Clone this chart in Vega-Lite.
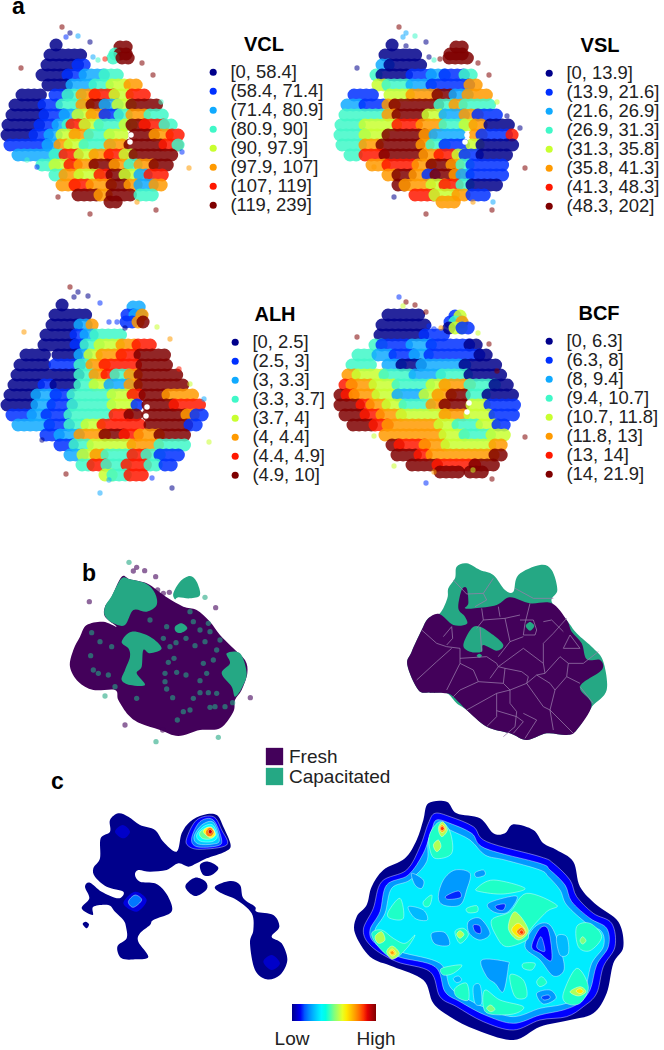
{"$schema":"https://vega.github.io/schema/vega-lite/v6.json","width":664,"height":1050,"padding":0,"autosize":{"type":"none"},"background":"white",
"config":{"view":{"stroke":null},"range":{"ordinal":["#00008b","#0030ff","#10aaff","#40f8c8","#c8ff30","#ff9a00","#ff1800","#7f0000"]},"legend":{"titleFontSize":20,"titleFont":"Liberation Sans","titleFontWeight":"bold","titleColor":"#000","titleAnchor":"middle","labelFontSize":18.4,"labelFont":"Liberation Sans","labelColor":"#222","symbolType":"circle","symbolSize":50,"symbolOpacity":1,"symbolStrokeWidth":0,"rowPadding":-0.8,"padding":0,"titlePadding":8,"labelOffset":8,"labelLimit":200}},
"resolve":{"scale":{"x":"independent","y":"independent","color":"independent","fill":"independent"}},
"encoding":{"x":{"field":"x","type":"quantitative","axis":null,"scale":{"domain":[0,664]}},"y":{"field":"y","type":"quantitative","axis":null,"scale":{"domain":[1050,0]}}},
"layer":[
{"data":{"name":"vcl","values":[{"y":45,"x":56,"x2":62,"c":0},{"y":55,"x":50,"x2":83,"c":0},{"y":65,"x":47,"x2":78,"c":0},{"y":65,"x":78,"x2":88,"c":1},{"y":75,"x":42,"x2":68,"c":0},{"y":75,"x":68,"x2":85,"c":1},{"y":75,"x":85,"x2":105,"c":2},{"y":75,"x":105,"x2":122,"c":3},{"y":85,"x":48,"x2":72,"c":0},{"y":85,"x":72,"x2":95,"c":2},{"y":85,"x":95,"x2":112,"c":3},{"y":85,"x":112,"x2":130,"c":4},{"y":85,"x":130,"x2":138,"c":5},{"y":95,"x":22,"x2":42,"c":0},{"y":95,"x":55,"x2":68,"c":1},{"y":95,"x":68,"x2":82,"c":3},{"y":95,"x":82,"x2":95,"c":5},{"y":95,"x":95,"x2":115,"c":6},{"y":95,"x":115,"x2":132,"c":4},{"y":95,"x":132,"x2":150,"c":6},{"y":105,"x":15,"x2":44,"c":0},{"y":105,"x":44,"x2":62,"c":1},{"y":105,"x":62,"x2":82,"c":3},{"y":105,"x":82,"x2":92,"c":5},{"y":105,"x":92,"x2":105,"c":7},{"y":105,"x":105,"x2":118,"c":2},{"y":105,"x":118,"x2":132,"c":4},{"y":105,"x":132,"x2":160,"c":7},{"y":115,"x":12,"x2":45,"c":0},{"y":115,"x":45,"x2":65,"c":1},{"y":115,"x":65,"x2":78,"c":2},{"y":115,"x":78,"x2":92,"c":4},{"y":115,"x":92,"x2":105,"c":5},{"y":115,"x":105,"x2":120,"c":1},{"y":115,"x":120,"x2":132,"c":3},{"y":115,"x":132,"x2":150,"c":5},{"y":115,"x":150,"x2":168,"c":3},{"y":125,"x":8,"x2":40,"c":0},{"y":125,"x":40,"x2":58,"c":1},{"y":125,"x":58,"x2":68,"c":2},{"y":125,"x":68,"x2":72,"c":3},{"y":125,"x":72,"x2":85,"c":6},{"y":125,"x":85,"x2":100,"c":4},{"y":125,"x":100,"x2":125,"c":3},{"y":125,"x":125,"x2":132,"c":4},{"y":125,"x":132,"x2":145,"c":7},{"y":125,"x":145,"x2":165,"c":6},{"y":125,"x":165,"x2":176,"c":3},{"y":135,"x":7,"x2":35,"c":0},{"y":135,"x":35,"x2":50,"c":1},{"y":135,"x":50,"x2":62,"c":2},{"y":135,"x":62,"x2":75,"c":4},{"y":135,"x":75,"x2":90,"c":5},{"y":135,"x":90,"x2":110,"c":3},{"y":135,"x":110,"x2":125,"c":4},{"y":135,"x":135,"x2":155,"c":7},{"y":135,"x":155,"x2":172,"c":5},{"y":135,"x":172,"x2":180,"c":6},{"y":145,"x":10,"x2":48,"c":1},{"y":145,"x":48,"x2":60,"c":2},{"y":145,"x":60,"x2":70,"c":5},{"y":145,"x":70,"x2":85,"c":4},{"y":145,"x":85,"x2":110,"c":3},{"y":145,"x":110,"x2":125,"c":5},{"y":145,"x":130,"x2":165,"c":7},{"y":145,"x":165,"x2":178,"c":6},{"y":145,"x":178,"x2":182,"c":3},{"y":155,"x":18,"x2":55,"c":2},{"y":155,"x":55,"x2":65,"c":3},{"y":155,"x":65,"x2":80,"c":6},{"y":155,"x":80,"x2":95,"c":4},{"y":155,"x":95,"x2":110,"c":5},{"y":155,"x":110,"x2":125,"c":6},{"y":155,"x":125,"x2":132,"c":4},{"y":155,"x":135,"x2":172,"c":7},{"y":165,"x":42,"x2":55,"c":3},{"y":165,"x":55,"x2":70,"c":4},{"y":165,"x":70,"x2":80,"c":6},{"y":165,"x":80,"x2":95,"c":5},{"y":165,"x":95,"x2":115,"c":7},{"y":165,"x":115,"x2":130,"c":5},{"y":165,"x":130,"x2":140,"c":3},{"y":165,"x":140,"x2":155,"c":5},{"y":165,"x":155,"x2":170,"c":7},{"y":175,"x":55,"x2":65,"c":3},{"y":175,"x":65,"x2":80,"c":5},{"y":175,"x":80,"x2":100,"c":4},{"y":175,"x":100,"x2":112,"c":6},{"y":175,"x":112,"x2":125,"c":7},{"y":175,"x":125,"x2":140,"c":4},{"y":175,"x":140,"x2":150,"c":2},{"y":175,"x":150,"x2":165,"c":6},{"y":185,"x":62,"x2":75,"c":5},{"y":185,"x":75,"x2":92,"c":6},{"y":185,"x":92,"x2":112,"c":5},{"y":185,"x":112,"x2":130,"c":7},{"y":185,"x":130,"x2":140,"c":5},{"y":185,"x":140,"x2":155,"c":2},{"y":185,"x":155,"x2":162,"c":5},{"y":195,"x":78,"x2":100,"c":7},{"y":195,"x":100,"x2":112,"c":5},{"y":195,"x":112,"x2":135,"c":7},{"y":195,"x":140,"x2":155,"c":3},{"y":202,"x":110,"x2":122,"c":7},{"y":47,"x":120,"x2":130,"c":7},{"y":54,"x":115,"x2":118,"c":3},{"y":54,"x":120,"x2":132,"c":7},{"y":58,"x":113,"x2":117,"c":3},{"y":58,"x":122,"x2":133,"c":7}]},
"mark":{"type":"rule","strokeWidth":13,"strokeCap":"round","strokeDash":[0.1,6],"opacity":0.85},"encoding":{"x2":{"field":"x2"},"color":{"field":"c","type":"ordinal","scale":{"domain":[0,1,2,3,4,5,6,7]},"legend":null}}},
{"data":{"values":[{"x":62,"y":27,"c":7},{"x":66,"y":37,"c":1},{"x":70,"y":33,"c":0},{"x":78,"y":36,"c":2},{"x":90,"y":42,"c":0},{"x":21,"y":68,"c":7},{"x":98,"y":60,"c":3},{"x":105,"y":59,"c":6},{"x":93,"y":57,"c":2},{"x":142,"y":63,"c":7},{"x":153,"y":75,"c":7},{"x":161,"y":102,"c":3},{"x":189,"y":168,"c":5},{"x":37,"y":167,"c":1},{"x":58,"y":197,"c":7},{"x":90,"y":214,"c":7},{"x":156,"y":210,"c":7},{"x":27,"y":160,"c":3},{"x":182,"y":152,"c":1},{"x":137,"y":202,"c":5}]},
"mark":{"type":"circle","size":28,"opacity":0.55},"encoding":{"color":{"field":"c","type":"ordinal","scale":{"domain":[0,1,2,3,4,5,6,7]},"legend":{"orient":"none","legendX":204,"legendY":35,"title":"VCL","labelExpr":"['[0, 58.4]','(58.4, 71.4]','(71.4, 80.9]','(80.9, 90]','(90, 97.9]','(97.9, 107]','(107, 119]','(119, 239]'][datum.value]"}}}},
{"data":{"name":"vsl","values":[{"y":45,"x":392,"x2":396,"c":0},{"y":55,"x":385,"x2":418,"c":0},{"y":65,"x":382,"x2":390,"c":2},{"y":65,"x":390,"x2":425,"c":0},{"y":75,"x":376,"x2":382,"c":3},{"y":75,"x":382,"x2":412,"c":0},{"y":75,"x":412,"x2":432,"c":1},{"y":75,"x":432,"x2":445,"c":2},{"y":75,"x":445,"x2":465,"c":1},{"y":75,"x":465,"x2":472,"c":3},{"y":85,"x":378,"x2":388,"c":4},{"y":85,"x":388,"x2":412,"c":3},{"y":85,"x":412,"x2":432,"c":2},{"y":85,"x":432,"x2":470,"c":1},{"y":85,"x":470,"x2":478,"c":5},{"y":95,"x":354,"x2":375,"c":1},{"y":95,"x":390,"x2":412,"c":4},{"y":95,"x":412,"x2":438,"c":5},{"y":95,"x":438,"x2":455,"c":7},{"y":95,"x":455,"x2":468,"c":2},{"y":95,"x":468,"x2":488,"c":5},{"y":105,"x":347,"x2":365,"c":2},{"y":105,"x":365,"x2":385,"c":1},{"y":105,"x":388,"x2":395,"c":5},{"y":105,"x":395,"x2":440,"c":7},{"y":105,"x":440,"x2":455,"c":3},{"y":105,"x":455,"x2":465,"c":5},{"y":105,"x":465,"x2":492,"c":3},{"y":115,"x":345,"x2":388,"c":3},{"y":115,"x":388,"x2":398,"c":5},{"y":115,"x":398,"x2":428,"c":7},{"y":115,"x":428,"x2":445,"c":4},{"y":115,"x":445,"x2":465,"c":2},{"y":115,"x":465,"x2":478,"c":5},{"y":115,"x":478,"x2":500,"c":1},{"y":125,"x":341,"x2":365,"c":3},{"y":125,"x":365,"x2":398,"c":4},{"y":125,"x":398,"x2":422,"c":6},{"y":125,"x":422,"x2":445,"c":5},{"y":125,"x":445,"x2":465,"c":3},{"y":125,"x":465,"x2":472,"c":4},{"y":125,"x":475,"x2":485,"c":5},{"y":125,"x":490,"x2":513,"c":0},{"y":135,"x":340,"x2":365,"c":3},{"y":135,"x":365,"x2":388,"c":4},{"y":135,"x":388,"x2":425,"c":7},{"y":135,"x":425,"x2":435,"c":5},{"y":135,"x":435,"x2":460,"c":2},{"y":135,"x":475,"x2":482,"c":5},{"y":135,"x":482,"x2":512,"c":1},{"y":135,"x":512,"x2":515,"c":6},{"y":145,"x":342,"x2":365,"c":3},{"y":145,"x":365,"x2":382,"c":5},{"y":145,"x":382,"x2":422,"c":7},{"y":145,"x":422,"x2":432,"c":5},{"y":145,"x":432,"x2":445,"c":3},{"y":145,"x":445,"x2":465,"c":1},{"y":145,"x":472,"x2":482,"c":4},{"y":145,"x":482,"x2":515,"c":0},{"y":155,"x":350,"x2":362,"c":3},{"y":155,"x":365,"x2":385,"c":6},{"y":155,"x":385,"x2":425,"c":7},{"y":155,"x":425,"x2":440,"c":5},{"y":155,"x":440,"x2":458,"c":6},{"y":155,"x":458,"x2":465,"c":4},{"y":155,"x":465,"x2":482,"c":1},{"y":155,"x":482,"x2":512,"c":0},{"y":165,"x":372,"x2":388,"c":5},{"y":165,"x":388,"x2":418,"c":6},{"y":165,"x":418,"x2":432,"c":5},{"y":165,"x":432,"x2":452,"c":7},{"y":165,"x":452,"x2":462,"c":5},{"y":165,"x":462,"x2":472,"c":3},{"y":165,"x":472,"x2":508,"c":1},{"y":175,"x":388,"x2":398,"c":5},{"y":175,"x":398,"x2":415,"c":7},{"y":175,"x":415,"x2":428,"c":5},{"y":175,"x":428,"x2":436,"c":1},{"y":175,"x":436,"x2":455,"c":7},{"y":175,"x":455,"x2":462,"c":5},{"y":175,"x":462,"x2":472,"c":2},{"y":175,"x":472,"x2":505,"c":1},{"y":185,"x":398,"x2":405,"c":7},{"y":185,"x":405,"x2":432,"c":5},{"y":185,"x":432,"x2":445,"c":4},{"y":185,"x":445,"x2":462,"c":6},{"y":185,"x":462,"x2":472,"c":3},{"y":185,"x":472,"x2":498,"c":0},{"y":195,"x":415,"x2":435,"c":6},{"y":195,"x":435,"x2":458,"c":4},{"y":195,"x":458,"x2":470,"c":5},{"y":195,"x":472,"x2":490,"c":1},{"y":202,"x":442,"x2":458,"c":5},{"y":47,"x":456,"x2":464,"c":7},{"y":54,"x":450,"x2":468,"c":7},{"y":58,"x":449,"x2":469,"c":7}]},
"mark":{"type":"rule","strokeWidth":13,"strokeCap":"round","strokeDash":[0.1,6],"opacity":0.85},"encoding":{"x2":{"field":"x2"},"color":{"field":"c","type":"ordinal","scale":{"domain":[0,1,2,3,4,5,6,7]},"legend":null}}},
{"data":{"values":[{"x":399,"y":27,"c":7},{"x":403,"y":37,"c":2},{"x":406,"y":33,"c":2},{"x":415,"y":36,"c":3},{"x":406,"y":46,"c":0},{"x":426,"y":42,"c":0},{"x":429,"y":57,"c":0},{"x":434,"y":60,"c":3},{"x":440,"y":59,"c":7},{"x":357,"y":68,"c":0},{"x":478,"y":63,"c":7},{"x":489,"y":75,"c":7},{"x":497,"y":102,"c":4},{"x":525,"y":168,"c":7},{"x":374,"y":167,"c":5},{"x":394,"y":197,"c":0},{"x":426,"y":214,"c":7},{"x":492,"y":210,"c":7},{"x":473,"y":202,"c":5},{"x":493,"y":202,"c":2},{"x":507,"y":116,"c":0},{"x":520,"y":128,"c":0}]},
"mark":{"type":"circle","size":28,"opacity":0.55},"encoding":{"color":{"field":"c","type":"ordinal","scale":{"domain":[0,1,2,3,4,5,6,7]},"legend":{"orient":"none","legendX":540,"legendY":36,"title":"VSL","labelExpr":"['[0, 13.9]','(13.9, 21.6]','(21.6, 26.9]','(26.9, 31.3]','(31.3, 35.8]','(35.8, 41.3]','(41.3, 48.3]','(48.3, 202]'][datum.value]"}}}},
{"data":{"name":"alh","values":[{"y":305,"x":62,"x2":64,"c":0},{"y":315,"x":55,"x2":88,"c":0},{"y":325,"x":52,"x2":80,"c":0},{"y":325,"x":80,"x2":92,"c":2},{"y":325,"x":92,"x2":96,"c":5},{"y":335,"x":46,"x2":76,"c":0},{"y":335,"x":76,"x2":86,"c":1},{"y":335,"x":86,"x2":96,"c":2},{"y":335,"x":96,"x2":125,"c":3},{"y":345,"x":44,"x2":76,"c":0},{"y":345,"x":76,"x2":86,"c":1},{"y":345,"x":86,"x2":100,"c":3},{"y":345,"x":100,"x2":122,"c":4},{"y":345,"x":122,"x2":138,"c":5},{"y":345,"x":138,"x2":152,"c":6},{"y":355,"x":26,"x2":46,"c":0},{"y":355,"x":58,"x2":80,"c":0},{"y":355,"x":80,"x2":90,"c":2},{"y":355,"x":90,"x2":102,"c":4},{"y":355,"x":102,"x2":122,"c":5},{"y":355,"x":122,"x2":140,"c":6},{"y":355,"x":140,"x2":165,"c":7},{"y":365,"x":20,"x2":50,"c":0},{"y":365,"x":55,"x2":80,"c":1},{"y":365,"x":80,"x2":92,"c":3},{"y":365,"x":92,"x2":105,"c":5},{"y":365,"x":105,"x2":140,"c":6},{"y":365,"x":142,"x2":172,"c":7},{"y":375,"x":17,"x2":80,"c":0},{"y":375,"x":80,"x2":95,"c":3},{"y":375,"x":95,"x2":107,"c":5},{"y":375,"x":107,"x2":116,"c":6},{"y":375,"x":116,"x2":130,"c":3},{"y":375,"x":130,"x2":140,"c":5},{"y":375,"x":140,"x2":180,"c":7},{"y":385,"x":14,"x2":44,"c":0},{"y":385,"x":44,"x2":56,"c":1},{"y":385,"x":56,"x2":80,"c":0},{"y":385,"x":80,"x2":95,"c":3},{"y":385,"x":95,"x2":110,"c":4},{"y":385,"x":110,"x2":130,"c":2},{"y":385,"x":130,"x2":140,"c":5},{"y":385,"x":140,"x2":186,"c":7},{"y":395,"x":10,"x2":37,"c":0},{"y":395,"x":37,"x2":56,"c":2},{"y":395,"x":56,"x2":73,"c":1},{"y":395,"x":73,"x2":113,"c":3},{"y":395,"x":113,"x2":133,"c":4},{"y":395,"x":133,"x2":143,"c":6},{"y":395,"x":145,"x2":168,"c":7},{"y":395,"x":168,"x2":198,"c":5},{"y":405,"x":7,"x2":37,"c":0},{"y":405,"x":37,"x2":53,"c":2},{"y":405,"x":53,"x2":73,"c":1},{"y":405,"x":73,"x2":113,"c":3},{"y":405,"x":113,"x2":137,"c":4},{"y":405,"x":137,"x2":143,"c":1},{"y":405,"x":148,"x2":175,"c":7},{"y":405,"x":175,"x2":200,"c":6},{"y":415,"x":12,"x2":33,"c":1},{"y":415,"x":33,"x2":47,"c":2},{"y":415,"x":47,"x2":70,"c":1},{"y":415,"x":70,"x2":110,"c":3},{"y":415,"x":115,"x2":130,"c":6},{"y":415,"x":130,"x2":142,"c":7},{"y":415,"x":148,"x2":187,"c":7},{"y":415,"x":187,"x2":196,"c":5},{"y":415,"x":196,"x2":203,"c":1},{"y":425,"x":18,"x2":50,"c":2},{"y":425,"x":50,"x2":70,"c":1},{"y":425,"x":70,"x2":87,"c":3},{"y":425,"x":87,"x2":103,"c":4},{"y":425,"x":103,"x2":140,"c":6},{"y":425,"x":150,"x2":187,"c":7},{"y":425,"x":190,"x2":198,"c":1},{"y":435,"x":46,"x2":60,"c":1},{"y":435,"x":60,"x2":80,"c":2},{"y":435,"x":80,"x2":105,"c":5},{"y":435,"x":105,"x2":125,"c":7},{"y":435,"x":125,"x2":140,"c":6},{"y":435,"x":140,"x2":160,"c":5},{"y":435,"x":160,"x2":188,"c":7},{"y":445,"x":60,"x2":75,"c":1},{"y":445,"x":75,"x2":93,"c":3},{"y":445,"x":93,"x2":133,"c":4},{"y":445,"x":133,"x2":160,"c":5},{"y":445,"x":160,"x2":186,"c":3},{"y":455,"x":70,"x2":83,"c":2},{"y":455,"x":83,"x2":96,"c":4},{"y":455,"x":96,"x2":107,"c":5},{"y":455,"x":107,"x2":133,"c":3},{"y":455,"x":133,"x2":147,"c":6},{"y":455,"x":147,"x2":160,"c":3},{"y":455,"x":160,"x2":183,"c":1},{"y":465,"x":82,"x2":93,"c":3},{"y":465,"x":93,"x2":107,"c":6},{"y":465,"x":107,"x2":127,"c":3},{"y":465,"x":127,"x2":150,"c":6},{"y":465,"x":150,"x2":160,"c":3},{"y":465,"x":165,"x2":175,"c":1},{"y":475,"x":105,"x2":113,"c":4},{"y":475,"x":113,"x2":130,"c":3},{"y":475,"x":130,"x2":143,"c":6},{"y":307,"x":133,"x2":140,"c":2},{"y":315,"x":127,"x2":135,"c":1},{"y":315,"x":135,"x2":142,"c":2},{"y":315,"x":142,"x2":144,"c":5},{"y":322,"x":126,"x2":138,"c":1},{"y":322,"x":138,"x2":143,"c":5},{"y":322,"x":143,"x2":147,"c":7}]},
"mark":{"type":"rule","strokeWidth":13,"strokeCap":"round","strokeDash":[0.1,6],"opacity":0.85},"encoding":{"x2":{"field":"x2"},"color":{"field":"c","type":"ordinal","scale":{"domain":[0,1,2,3,4,5,6,7]},"legend":null}}},
{"data":{"values":[{"x":70,"y":287,"c":7},{"x":78,"y":292,"c":0},{"x":74,"y":297,"c":0},{"x":88,"y":296,"c":0},{"x":100,"y":303,"c":1},{"x":24,"y":332,"c":5},{"x":109,"y":322,"c":1},{"x":117,"y":322,"c":1},{"x":125,"y":328,"c":0},{"x":157,"y":327,"c":4},{"x":170,"y":339,"c":5},{"x":179,"y":369,"c":6},{"x":190,"y":384,"c":4},{"x":204,"y":399,"c":2},{"x":209,"y":442,"c":4},{"x":42,"y":440,"c":0},{"x":66,"y":474,"c":7},{"x":100,"y":493,"c":2},{"x":172,"y":488,"c":0},{"x":152,"y":478,"c":1},{"x":109,"y":480,"c":2}]},
"mark":{"type":"circle","size":28,"opacity":0.55},"encoding":{"color":{"field":"c","type":"ordinal","scale":{"domain":[0,1,2,3,4,5,6,7]},"legend":{"orient":"none","legendX":226,"legendY":305,"title":"ALH","labelExpr":"['[0, 2.5]','(2.5, 3]','(3, 3.3]','(3.3, 3.7]','(3.7, 4]','(4, 4.4]','(4.4, 4.9]','(4.9, 10]'][datum.value]"}}}},
{"data":{"name":"bcf","values":[{"y":315,"x":388,"x2":420,"c":0},{"y":325,"x":382,"x2":425,"c":0},{"y":335,"x":380,"x2":425,"c":0},{"y":335,"x":425,"x2":445,"c":1},{"y":345,"x":375,"x2":382,"c":3},{"y":345,"x":382,"x2":412,"c":1},{"y":345,"x":412,"x2":432,"c":2},{"y":345,"x":432,"x2":470,"c":1},{"y":345,"x":470,"x2":478,"c":0},{"y":355,"x":358,"x2":372,"c":3},{"y":355,"x":378,"x2":395,"c":2},{"y":355,"x":395,"x2":415,"c":1},{"y":355,"x":415,"x2":430,"c":2},{"y":355,"x":430,"x2":480,"c":1},{"y":355,"x":480,"x2":490,"c":0},{"y":365,"x":352,"x2":375,"c":3},{"y":365,"x":388,"x2":402,"c":2},{"y":365,"x":402,"x2":422,"c":0},{"y":365,"x":422,"x2":465,"c":2},{"y":365,"x":465,"x2":498,"c":0},{"y":375,"x":348,"x2":358,"c":5},{"y":375,"x":358,"x2":385,"c":4},{"y":375,"x":385,"x2":415,"c":3},{"y":375,"x":415,"x2":442,"c":2},{"y":375,"x":442,"x2":470,"c":3},{"y":375,"x":470,"x2":505,"c":0},{"y":385,"x":345,"x2":352,"c":6},{"y":385,"x":352,"x2":375,"c":5},{"y":385,"x":375,"x2":398,"c":4},{"y":385,"x":398,"x2":432,"c":3},{"y":385,"x":432,"x2":445,"c":4},{"y":385,"x":445,"x2":470,"c":5},{"y":385,"x":470,"x2":495,"c":3},{"y":385,"x":495,"x2":510,"c":0},{"y":395,"x":340,"x2":347,"c":7},{"y":395,"x":347,"x2":355,"c":6},{"y":395,"x":355,"x2":378,"c":5},{"y":395,"x":378,"x2":398,"c":4},{"y":395,"x":398,"x2":425,"c":2},{"y":395,"x":425,"x2":438,"c":4},{"y":395,"x":438,"x2":452,"c":5},{"y":395,"x":452,"x2":465,"c":7},{"y":395,"x":472,"x2":488,"c":3},{"y":395,"x":488,"x2":518,"c":0},{"y":405,"x":340,"x2":362,"c":7},{"y":405,"x":362,"x2":372,"c":6},{"y":405,"x":372,"x2":388,"c":5},{"y":405,"x":388,"x2":405,"c":4},{"y":405,"x":405,"x2":432,"c":3},{"y":405,"x":432,"x2":445,"c":5},{"y":405,"x":445,"x2":465,"c":7},{"y":405,"x":472,"x2":490,"c":4},{"y":405,"x":490,"x2":520,"c":1},{"y":415,"x":345,"x2":366,"c":7},{"y":415,"x":366,"x2":382,"c":6},{"y":415,"x":382,"x2":402,"c":5},{"y":415,"x":402,"x2":445,"c":4},{"y":415,"x":445,"x2":465,"c":5},{"y":415,"x":470,"x2":492,"c":4},{"y":415,"x":495,"x2":518,"c":1},{"y":425,"x":353,"x2":375,"c":7},{"y":425,"x":375,"x2":388,"c":6},{"y":425,"x":388,"x2":440,"c":5},{"y":425,"x":440,"x2":458,"c":4},{"y":425,"x":458,"x2":482,"c":3},{"y":425,"x":482,"x2":498,"c":4},{"y":425,"x":498,"x2":510,"c":1},{"y":435,"x":385,"x2":445,"c":5},{"y":435,"x":445,"x2":465,"c":4},{"y":435,"x":465,"x2":492,"c":3},{"y":435,"x":492,"x2":508,"c":4},{"y":445,"x":392,"x2":400,"c":7},{"y":445,"x":400,"x2":425,"c":6},{"y":445,"x":425,"x2":447,"c":5},{"y":445,"x":447,"x2":495,"c":4},{"y":445,"x":495,"x2":505,"c":5},{"y":455,"x":397,"x2":420,"c":7},{"y":455,"x":420,"x2":432,"c":6},{"y":455,"x":432,"x2":495,"c":5},{"y":455,"x":495,"x2":503,"c":7},{"y":465,"x":412,"x2":438,"c":7},{"y":465,"x":438,"x2":475,"c":6},{"y":465,"x":475,"x2":495,"c":7},{"y":472,"x":440,"x2":460,"c":7},{"y":472,"x":470,"x2":488,"c":7},{"y":316,"x":455,"x2":460,"c":1},{"y":316,"x":460,"x2":465,"c":4},{"y":322,"x":450,"x2":455,"c":1},{"y":322,"x":455,"x2":462,"c":3},{"y":322,"x":462,"x2":468,"c":5},{"y":328,"x":449,"x2":455,"c":0},{"y":328,"x":455,"x2":462,"c":4},{"y":328,"x":462,"x2":469,"c":1}]},
"mark":{"type":"rule","strokeWidth":13,"strokeCap":"round","strokeDash":[0.1,6],"opacity":0.85},"encoding":{"x2":{"field":"x2"},"color":{"field":"c","type":"ordinal","scale":{"domain":[0,1,2,3,4,5,6,7]},"legend":null}}},
{"data":{"values":[{"x":399,"y":297,"c":1},{"x":406,"y":302,"c":7},{"x":403,"y":306,"c":4},{"x":415,"y":305,"c":7},{"x":426,"y":312,"c":7},{"x":429,"y":326,"c":1},{"x":434,"y":329,"c":1},{"x":441,"y":328,"c":5},{"x":478,"y":333,"c":4},{"x":357,"y":337,"c":7},{"x":489,"y":344,"c":7},{"x":497,"y":371,"c":7},{"x":525,"y":437,"c":7},{"x":374,"y":436,"c":4},{"x":394,"y":466,"c":4},{"x":426,"y":483,"c":1},{"x":492,"y":479,"c":7},{"x":473,"y":470,"c":4},{"x":434,"y":472,"c":5}]},
"mark":{"type":"circle","size":28,"opacity":0.55},"encoding":{"color":{"field":"c","type":"ordinal","scale":{"domain":[0,1,2,3,4,5,6,7]},"legend":{"orient":"none","legendX":540,"legendY":304,"title":"BCF","labelExpr":"['[0, 6.3]','(6.3, 8]','(8, 9.4]','(9.4, 10.7]','(10.7, 11.8]','(11.8, 13]','(13, 14]','(14, 21.9]'][datum.value]"}}}},
{"data":{"name":"holes","values":[{"x":131,"y":135},{"x":130,"y":142},{"x":467,"y":135},{"x":465,"y":142},{"x":147,"y":407},{"x":146,"y":416},{"x":469,"y":403},{"x":467,"y":412},{"x":195,"y":665},{"x":193,"y":672}]},"mark":{"type":"point","filled":true,"shape":"circle","size":30,"color":"white","opacity":1}},
{"data":{"name":"bleft","values":[{"g":1,"c":0,"x":215,"y":200},{"g":1,"c":0,"x":240,"y":208},{"g":1,"c":0,"x":290,"y":220},{"g":1,"c":0,"x":320,"y":240},{"g":1,"c":0,"x":355,"y":265},{"g":1,"c":0,"x":400,"y":290},{"g":1,"c":0,"x":440,"y":300},{"g":1,"c":0,"x":480,"y":335},{"g":1,"c":0,"x":510,"y":375},{"g":1,"c":0,"x":545,"y":410},{"g":1,"c":0,"x":585,"y":450},{"g":1,"c":0,"x":592,"y":490},{"g":1,"c":0,"x":575,"y":540},{"g":1,"c":0,"x":555,"y":570},{"g":1,"c":0,"x":550,"y":605},{"g":1,"c":0,"x":510,"y":655},{"g":1,"c":0,"x":450,"y":660},{"g":1,"c":0,"x":385,"y":678},{"g":1,"c":0,"x":330,"y":660},{"g":1,"c":0,"x":270,"y":640},{"g":1,"c":0,"x":235,"y":615},{"g":1,"c":0,"x":205,"y":570},{"g":1,"c":0,"x":195,"y":540},{"g":1,"c":0,"x":130,"y":540},{"g":1,"c":0,"x":85,"y":515},{"g":1,"c":0,"x":60,"y":470},{"g":1,"c":0,"x":70,"y":420},{"g":1,"c":0,"x":90,"y":380},{"g":1,"c":0,"x":110,"y":345},{"g":1,"c":0,"x":160,"y":335},{"g":1,"c":0,"x":200,"y":350},{"g":1,"c":0,"x":165,"y":320},{"g":1,"c":0,"x":165,"y":290},{"g":1,"c":0,"x":185,"y":260},{"g":2,"c":1,"x":215,"y":205},{"g":2,"c":1,"x":240,"y":208},{"g":2,"c":1,"x":290,"y":222},{"g":2,"c":1,"x":315,"y":250},{"g":2,"c":1,"x":320,"y":285},{"g":2,"c":1,"x":290,"y":305},{"g":2,"c":1,"x":250,"y":300},{"g":2,"c":1,"x":225,"y":345},{"g":2,"c":1,"x":190,"y":340},{"g":2,"c":1,"x":165,"y":318},{"g":2,"c":1,"x":165,"y":290},{"g":2,"c":1,"x":185,"y":258},{"g":3,"c":1,"x":370,"y":250},{"g":3,"c":1,"x":390,"y":215},{"g":3,"c":1,"x":420,"y":198},{"g":3,"c":1,"x":440,"y":215},{"g":3,"c":1,"x":450,"y":255},{"g":3,"c":1,"x":420,"y":265},{"g":3,"c":1,"x":385,"y":262},{"g":3,"c":1,"x":375,"y":268},{"g":4,"c":1,"x":215,"y":395},{"g":4,"c":1,"x":245,"y":365},{"g":4,"c":1,"x":300,"y":380},{"g":4,"c":1,"x":335,"y":415},{"g":4,"c":1,"x":300,"y":430},{"g":4,"c":1,"x":280,"y":420},{"g":4,"c":1,"x":275,"y":470},{"g":4,"c":1,"x":260,"y":490},{"g":4,"c":1,"x":285,"y":525},{"g":4,"c":1,"x":240,"y":525},{"g":4,"c":1,"x":215,"y":510},{"g":4,"c":1,"x":225,"y":480},{"g":4,"c":1,"x":240,"y":440},{"g":4,"c":1,"x":235,"y":415},{"g":5,"c":1,"x":530,"y":430},{"g":5,"c":1,"x":570,"y":430},{"g":5,"c":1,"x":590,"y":490},{"g":5,"c":1,"x":575,"y":535},{"g":5,"c":1,"x":555,"y":560},{"g":5,"c":1,"x":545,"y":530},{"g":5,"c":1,"x":515,"y":490},{"g":5,"c":1,"x":540,"y":460},{"g":6,"c":1,"x":375,"y":350},{"g":6,"c":1,"x":395,"y":340},{"g":6,"c":1,"x":412,"y":355},{"g":6,"c":1,"x":395,"y":368},{"g":6,"c":1,"x":378,"y":365}]},
"mark":{"type":"line","interpolate":"cardinal-closed","stroke":"transparent"},"encoding":{"x":{"field":"x","type":"quantitative","axis":null,"scale":{"domain":[-150,1842]}},"y":{"field":"y","type":"quantitative","axis":null,"scale":{"domain":[1620,-1530]}},"order":{"value":null},"detail":{"field":"g"},"fill":{"field":"c","type":"ordinal","scale":{"domain":[0,1],"range":["#43015a","#25a884"]},"legend":null}}},
{"data":{"name":"bdots","values":[{"x":125,"y":368,"c":1},{"x":150,"y":395,"c":1},{"x":185,"y":410,"c":1},{"x":122,"y":437,"c":1},{"x":130,"y":480,"c":1},{"x":175,"y":495,"c":1},{"x":145,"y":490,"c":1},{"x":195,"y":530,"c":1},{"x":260,"y":565,"c":1},{"x":345,"y":490,"c":1},{"x":355,"y":457,"c":1},{"x":380,"y":487,"c":1},{"x":408,"y":495,"c":1},{"x":372,"y":445,"c":1},{"x":360,"y":410,"c":1},{"x":378,"y":398,"c":1},{"x":340,"y":385,"c":1},{"x":408,"y":385,"c":1},{"x":435,"y":407,"c":1},{"x":465,"y":395,"c":1},{"x":500,"y":420,"c":1},{"x":460,"y":460,"c":1},{"x":490,"y":450,"c":1},{"x":470,"y":490,"c":1},{"x":450,"y":512,"c":1},{"x":345,"y":515,"c":1},{"x":350,"y":537,"c":1},{"x":368,"y":563,"c":1},{"x":430,"y":565,"c":1},{"x":475,"y":548,"c":1},{"x":500,"y":550,"c":1},{"x":450,"y":548,"c":1},{"x":400,"y":605,"c":1},{"x":420,"y":600,"c":1},{"x":382,"y":630,"c":1},{"x":480,"y":592,"c":1},{"x":495,"y":590,"c":1},{"x":525,"y":590,"c":1},{"x":548,"y":578,"c":1},{"x":430,"y":335,"c":1},{"x":420,"y":305,"c":1},{"x":450,"y":360,"c":1},{"x":480,"y":365,"c":1},{"x":510,"y":390,"c":1},{"x":475,"y":340,"c":1},{"x":350,"y":350,"c":1},{"x":300,"y":330,"c":1},{"x":237,"y":157,"c":1},{"x":165,"y":558,"c":1},{"x":465,"y":262,"c":1},{"x":318,"y":695,"c":1},{"x":505,"y":682,"c":1},{"x":250,"y":183,"c":0},{"x":260,"y":172,"c":0},{"x":284,"y":182,"c":0},{"x":317,"y":200,"c":0},{"x":118,"y":275,"c":0},{"x":323,"y":240,"c":0},{"x":340,"y":250,"c":0},{"x":358,"y":247,"c":0},{"x":497,"y":293,"c":0},{"x":601,"y":563,"c":0},{"x":225,"y":645,"c":0},{"x":338,"y":660,"c":0}]},
"mark":{"type":"circle","size":28,"opacity":0.6},"encoding":{"x":{"field":"x","type":"quantitative","axis":null,"scale":{"domain":[-150,1842]}},"y":{"field":"y","type":"quantitative","axis":null,"scale":{"domain":[1620,-1530]}},"color":{"field":"c","type":"ordinal","scale":{"domain":[0,1],"range":["#43015a","#25a884"]},"legend":{"orient":"none","legendX":265,"legendY":747,"title":null,"symbolType":"square","symbolSize":300,"labelOffset":5,"labelFontSize":19,"rowPadding":0,"labelExpr":"['Fresh','Capacitated'][datum.value]"}}}},
{"data":{"name":"bright","values":[{"g":1,"c":1,"x":320,"y":140},{"g":1,"c":1,"x":350,"y":130},{"g":1,"c":1,"x":390,"y":150},{"g":1,"c":1,"x":430,"y":165},{"g":1,"c":1,"x":465,"y":210},{"g":1,"c":1,"x":490,"y":215},{"g":1,"c":1,"x":505,"y":165},{"g":1,"c":1,"x":570,"y":135},{"g":1,"c":1,"x":605,"y":150},{"g":1,"c":1,"x":622,"y":210},{"g":1,"c":1,"x":605,"y":245},{"g":1,"c":1,"x":650,"y":300},{"g":1,"c":1,"x":680,"y":340},{"g":1,"c":1,"x":730,"y":385},{"g":1,"c":1,"x":760,"y":425},{"g":1,"c":1,"x":770,"y":510},{"g":1,"c":1,"x":730,"y":555},{"g":1,"c":1,"x":720,"y":570},{"g":1,"c":1,"x":680,"y":630},{"g":1,"c":1,"x":650,"y":645},{"g":1,"c":1,"x":590,"y":640},{"g":1,"c":1,"x":530,"y":660},{"g":1,"c":1,"x":480,"y":640},{"g":1,"c":1,"x":410,"y":620},{"g":1,"c":1,"x":350,"y":570},{"g":1,"c":1,"x":320,"y":550},{"g":1,"c":1,"x":290,"y":520},{"g":1,"c":1,"x":240,"y":518},{"g":1,"c":1,"x":205,"y":510},{"g":1,"c":1,"x":172,"y":435},{"g":1,"c":1,"x":185,"y":395},{"g":1,"c":1,"x":215,"y":330},{"g":1,"c":1,"x":235,"y":295},{"g":1,"c":1,"x":270,"y":280},{"g":1,"c":1,"x":292,"y":235},{"g":1,"c":1,"x":295,"y":205},{"g":1,"c":1,"x":315,"y":175},{"g":2,"c":0,"x":172,"y":435},{"g":2,"c":0,"x":185,"y":395},{"g":2,"c":0,"x":215,"y":330},{"g":2,"c":0,"x":235,"y":295},{"g":2,"c":0,"x":268,"y":282},{"g":2,"c":0,"x":310,"y":315},{"g":2,"c":0,"x":350,"y":312},{"g":2,"c":0,"x":345,"y":290},{"g":2,"c":0,"x":325,"y":265},{"g":2,"c":0,"x":335,"y":210},{"g":2,"c":0,"x":350,"y":205},{"g":2,"c":0,"x":355,"y":250},{"g":2,"c":0,"x":345,"y":265},{"g":2,"c":0,"x":375,"y":265},{"g":2,"c":0,"x":440,"y":255},{"g":2,"c":0,"x":480,"y":232},{"g":2,"c":0,"x":540,"y":250},{"g":2,"c":0,"x":605,"y":250},{"g":2,"c":0,"x":650,"y":300},{"g":2,"c":0,"x":665,"y":335},{"g":2,"c":0,"x":695,"y":370},{"g":2,"c":0,"x":710,"y":418},{"g":2,"c":0,"x":750,"y":420},{"g":2,"c":0,"x":755,"y":450},{"g":2,"c":0,"x":690,"y":500},{"g":2,"c":0,"x":725,"y":555},{"g":2,"c":0,"x":680,"y":630},{"g":2,"c":0,"x":650,"y":645},{"g":2,"c":0,"x":590,"y":640},{"g":2,"c":0,"x":530,"y":660},{"g":2,"c":0,"x":480,"y":640},{"g":2,"c":0,"x":410,"y":620},{"g":2,"c":0,"x":350,"y":570},{"g":2,"c":0,"x":330,"y":550},{"g":2,"c":0,"x":310,"y":530},{"g":2,"c":0,"x":290,"y":520},{"g":2,"c":0,"x":240,"y":518},{"g":2,"c":0,"x":205,"y":510},{"g":3,"c":1,"x":340,"y":375},{"g":3,"c":1,"x":365,"y":325},{"g":3,"c":1,"x":390,"y":320},{"g":3,"c":1,"x":430,"y":345},{"g":3,"c":1,"x":460,"y":375},{"g":3,"c":1,"x":440,"y":392},{"g":3,"c":1,"x":400,"y":375},{"g":3,"c":1,"x":395,"y":395},{"g":3,"c":1,"x":360,"y":395},{"g":4,"c":1,"x":527,"y":318},{"g":4,"c":1,"x":540,"y":306},{"g":4,"c":1,"x":553,"y":318},{"g":4,"c":1,"x":540,"y":332},{"g":5,"c":1,"x":380,"y":407},{"g":5,"c":1,"x":388,"y":401},{"g":5,"c":1,"x":396,"y":407},{"g":5,"c":1,"x":388,"y":413}]},
"mark":{"type":"line","interpolate":"cardinal-closed","stroke":"transparent"},"encoding":{"x":{"field":"x","type":"quantitative","axis":null,"scale":{"domain":[-1050,942]}},"y":{"field":"y","type":"quantitative","axis":null,"scale":{"domain":[1590,-1560]}},"order":{"value":null},"detail":{"field":"g"},"fill":{"field":"c","type":"ordinal","scale":{"domain":[0,1],"range":["#43015a","#25a884"]},"legend":null}}},
{"data":{"name":"cells","values":[{"g":1,"x":215,"y":330},{"g":1,"x":260,"y":370},{"g":1,"x":290,"y":380},{"g":1,"x":330,"y":385},{"g":2,"x":200,"y":480},{"g":2,"x":260,"y":425},{"g":2,"x":305,"y":385},{"g":3,"x":310,"y":180},{"g":3,"x":350,"y":222},{"g":3,"x":400,"y":220},{"g":3,"x":430,"y":175},{"g":4,"x":400,"y":220},{"g":4,"x":410,"y":240},{"g":4,"x":375,"y":260},{"g":5,"x":495,"y":205},{"g":5,"x":550,"y":235},{"g":5,"x":610,"y":235},{"g":6,"x":280,"y":350},{"g":6,"x":305,"y":320},{"g":6,"x":308,"y":355},{"g":6,"x":290,"y":375},{"g":7,"x":330,"y":385},{"g":7,"x":330,"y":430},{"g":7,"x":290,"y":510},{"g":8,"x":330,"y":430},{"g":8,"x":370,"y":450},{"g":8,"x":385,"y":485},{"g":8,"x":330,"y":510},{"g":8,"x":310,"y":530},{"g":9,"x":385,"y":485},{"g":9,"x":460,"y":490},{"g":9,"x":480,"y":510},{"g":9,"x":440,"y":520},{"g":9,"x":350,"y":570},{"g":10,"x":440,"y":520},{"g":10,"x":440,"y":590},{"g":10,"x":410,"y":620},{"g":11,"x":480,"y":510},{"g":11,"x":480,"y":550},{"g":11,"x":500,"y":575},{"g":11,"x":495,"y":620},{"g":11,"x":460,"y":650},{"g":12,"x":440,"y":572},{"g":12,"x":500,"y":590},{"g":12,"x":520,"y":605},{"g":12,"x":490,"y":640},{"g":13,"x":520,"y":580},{"g":13,"x":560,"y":600},{"g":13,"x":525,"y":655},{"g":14,"x":480,"y":510},{"g":14,"x":530,"y":490},{"g":14,"x":580,"y":560},{"g":14,"x":600,"y":570},{"g":14,"x":610,"y":630},{"g":16,"x":600,"y":570},{"g":16,"x":670,"y":640},{"g":17,"x":530,"y":490},{"g":17,"x":560,"y":465},{"g":17,"x":600,"y":490},{"g":17,"x":615,"y":510},{"g":17,"x":600,"y":570},{"g":18,"x":465,"y":445},{"g":18,"x":515,"y":455},{"g":18,"x":535,"y":470},{"g":18,"x":530,"y":490},{"g":19,"x":465,"y":445},{"g":19,"x":460,"y":490},{"g":20,"x":420,"y":475},{"g":20,"x":445,"y":440},{"g":20,"x":465,"y":445},{"g":21,"x":445,"y":440},{"g":21,"x":520,"y":385},{"g":21,"x":580,"y":430},{"g":21,"x":585,"y":460},{"g":21,"x":560,"y":465},{"g":22,"x":330,"y":415},{"g":22,"x":410,"y":410},{"g":22,"x":440,"y":430},{"g":22,"x":445,"y":440},{"g":23,"x":395,"y":395},{"g":23,"x":390,"y":320},{"g":24,"x":395,"y":265},{"g":24,"x":400,"y":300},{"g":24,"x":380,"y":325},{"g":25,"x":400,"y":300},{"g":25,"x":465,"y":295},{"g":25,"x":480,"y":365},{"g":25,"x":520,"y":350},{"g":26,"x":445,"y":260},{"g":26,"x":450,"y":290},{"g":27,"x":480,"y":365},{"g":27,"x":445,"y":410},{"g":28,"x":510,"y":300},{"g":28,"x":550,"y":300},{"g":28,"x":560,"y":330},{"g":28,"x":555,"y":345},{"g":28,"x":520,"y":345},{"g":28,"x":525,"y":310},{"g":28,"x":540,"y":250},{"g":29,"x":465,"y":295},{"g":29,"x":510,"y":285},{"g":30,"x":580,"y":430},{"g":30,"x":580,"y":370},{"g":30,"x":610,"y":340},{"g":30,"x":650,"y":295},{"g":31,"x":580,"y":305},{"g":31,"x":605,"y":300},{"g":31,"x":640,"y":335},{"g":32,"x":585,"y":460},{"g":32,"x":630,"y":410},{"g":32,"x":655,"y":430},{"g":32,"x":650,"y":470},{"g":32,"x":690,"y":490},{"g":33,"x":655,"y":430},{"g":33,"x":700,"y":430},{"g":33,"x":745,"y":395},{"g":34,"x":640,"y":385},{"g":34,"x":660,"y":345},{"g":34,"x":690,"y":385},{"g":34,"x":640,"y":385},{"g":35,"x":690,"y":500},{"g":35,"x":730,"y":550},{"g":36,"x":615,"y":510},{"g":36,"x":650,"y":470}]},
"mark":{"type":"line","stroke":"#9a7cab","strokeWidth":1,"strokeOpacity":0.75},"encoding":{"x":{"field":"x","type":"quantitative","axis":null,"scale":{"domain":[-1050,942]}},"y":{"field":"y","type":"quantitative","axis":null,"scale":{"domain":[1590,-1560]}},"order":{"value":null},"detail":{"field":"g"}}},
{"data":{"name":"cleft","values":[{"g":1,"v":0,"x":210,"y":150},{"g":1,"v":0,"x":235,"y":130},{"g":1,"v":0,"x":265,"y":140},{"g":1,"v":0,"x":300,"y":165},{"g":1,"v":0,"x":345,"y":180},{"g":1,"v":0,"x":370,"y":215},{"g":1,"v":0,"x":410,"y":245},{"g":1,"v":0,"x":425,"y":190},{"g":1,"v":0,"x":450,"y":155},{"g":1,"v":0,"x":490,"y":135},{"g":1,"v":0,"x":530,"y":135},{"g":1,"v":0,"x":550,"y":170},{"g":1,"v":0,"x":572,"y":225},{"g":1,"v":0,"x":555,"y":245},{"g":1,"v":0,"x":500,"y":265},{"g":1,"v":0,"x":470,"y":280},{"g":1,"v":0,"x":445,"y":290},{"g":1,"v":0,"x":415,"y":280},{"g":1,"v":0,"x":380,"y":300},{"g":1,"v":0,"x":330,"y":305},{"g":1,"v":0,"x":295,"y":300},{"g":1,"v":0,"x":285,"y":315},{"g":1,"v":0,"x":300,"y":335},{"g":1,"v":0,"x":345,"y":340},{"g":1,"v":0,"x":375,"y":365},{"g":1,"v":0,"x":395,"y":405},{"g":1,"v":0,"x":390,"y":430},{"g":1,"v":0,"x":340,"y":450},{"g":1,"v":0,"x":330,"y":465},{"g":1,"v":0,"x":300,"y":490},{"g":1,"v":0,"x":295,"y":515},{"g":1,"v":0,"x":325,"y":560},{"g":1,"v":0,"x":290,"y":568},{"g":1,"v":0,"x":245,"y":565},{"g":1,"v":0,"x":232,"y":530},{"g":1,"v":0,"x":260,"y":505},{"g":1,"v":0,"x":258,"y":470},{"g":1,"v":0,"x":250,"y":450},{"g":1,"v":0,"x":225,"y":425},{"g":1,"v":0,"x":205,"y":405},{"g":1,"v":0,"x":160,"y":410},{"g":1,"v":0,"x":158,"y":435},{"g":1,"v":0,"x":125,"y":415},{"g":1,"v":0,"x":148,"y":385},{"g":1,"v":0,"x":135,"y":350},{"g":1,"v":0,"x":150,"y":338},{"g":1,"v":0,"x":185,"y":365},{"g":1,"v":0,"x":235,"y":385},{"g":1,"v":0,"x":250,"y":365},{"g":1,"v":0,"x":200,"y":350},{"g":1,"v":0,"x":165,"y":320},{"g":1,"v":0,"x":160,"y":295},{"g":1,"v":0,"x":180,"y":265},{"g":1,"v":0,"x":182,"y":205},{"g":1,"v":0,"x":210,"y":185},{"g":2,"v":0,"x":480,"y":285},{"g":2,"v":0,"x":505,"y":275},{"g":2,"v":0,"x":535,"y":293},{"g":2,"v":0,"x":515,"y":315},{"g":2,"v":0,"x":490,"y":315},{"g":3,"v":0,"x":437,"y":345},{"g":3,"v":0,"x":465,"y":323},{"g":3,"v":0,"x":497,"y":335},{"g":3,"v":0,"x":500,"y":358},{"g":3,"v":0,"x":470,"y":378},{"g":3,"v":0,"x":445,"y":365},{"g":4,"v":0,"x":525,"y":350},{"g":4,"v":0,"x":570,"y":333},{"g":4,"v":0,"x":600,"y":345},{"g":4,"v":0,"x":610,"y":385},{"g":4,"v":0,"x":645,"y":410},{"g":4,"v":0,"x":650,"y":425},{"g":4,"v":0,"x":700,"y":435},{"g":4,"v":0,"x":718,"y":470},{"g":4,"v":0,"x":695,"y":500},{"g":4,"v":0,"x":725,"y":520},{"g":4,"v":0,"x":742,"y":570},{"g":4,"v":0,"x":720,"y":615},{"g":4,"v":0,"x":680,"y":628},{"g":4,"v":0,"x":645,"y":600},{"g":4,"v":0,"x":630,"y":520},{"g":4,"v":0,"x":640,"y":480},{"g":4,"v":0,"x":635,"y":430},{"g":4,"v":0,"x":590,"y":390},{"g":4,"v":0,"x":545,"y":370},{"g":5,"v":0,"x":128,"y":462},{"g":5,"v":0,"x":137,"y":455},{"g":5,"v":0,"x":147,"y":463},{"g":5,"v":0,"x":140,"y":475},{"g":61,"v":6,"x":225,"y":185},{"g":61,"v":6,"x":248,"y":165},{"g":61,"v":6,"x":270,"y":185},{"g":61,"v":6,"x":250,"y":205},{"g":62,"v":6,"x":670,"y":575},{"g":62,"v":6,"x":695,"y":555},{"g":62,"v":6,"x":720,"y":580},{"g":62,"v":6,"x":695,"y":600},{"g":63,"v":8,"x":250,"y":400},{"g":63,"v":8,"x":285,"y":365},{"g":63,"v":8,"x":320,"y":390},{"g":63,"v":8,"x":290,"y":425},{"g":64,"v":18,"x":265,"y":395},{"g":64,"v":18,"x":285,"y":375},{"g":64,"v":18,"x":305,"y":390},{"g":64,"v":18,"x":280,"y":412},{"g":65,"v":11,"x":440,"y":205},{"g":65,"v":11,"x":470,"y":150},{"g":65,"v":11,"x":520,"y":140},{"g":65,"v":11,"x":545,"y":180},{"g":65,"v":11,"x":560,"y":225},{"g":65,"v":11,"x":480,"y":238},{"g":65,"v":11,"x":445,"y":228},{"g":66,"v":18,"x":455,"y":205},{"g":66,"v":18,"x":480,"y":155},{"g":66,"v":18,"x":520,"y":150},{"g":66,"v":18,"x":545,"y":210},{"g":66,"v":18,"x":530,"y":228},{"g":66,"v":18,"x":470,"y":230},{"g":67,"v":28,"x":462,"y":200},{"g":67,"v":28,"x":485,"y":165},{"g":67,"v":28,"x":520,"y":157},{"g":67,"v":28,"x":538,"y":210},{"g":67,"v":28,"x":520,"y":222},{"g":67,"v":28,"x":475,"y":222},{"g":68,"v":36,"x":470,"y":195},{"g":68,"v":36,"x":490,"y":170},{"g":68,"v":36,"x":518,"y":165},{"g":68,"v":36,"x":532,"y":200},{"g":68,"v":36,"x":515,"y":215},{"g":68,"v":36,"x":480,"y":213},{"g":69,"v":48,"x":478,"y":190},{"g":69,"v":48,"x":495,"y":175},{"g":69,"v":48,"x":516,"y":172},{"g":69,"v":48,"x":527,"y":195},{"g":69,"v":48,"x":510,"y":207},{"g":69,"v":48,"x":487,"y":205},{"g":70,"v":62,"x":490,"y":185},{"g":70,"v":62,"x":505,"y":172},{"g":70,"v":62,"x":520,"y":178},{"g":70,"v":62,"x":525,"y":195},{"g":70,"v":62,"x":510,"y":203},{"g":71,"v":78,"x":497,"y":185},{"g":71,"v":78,"x":510,"y":172},{"g":71,"v":78,"x":522,"y":185},{"g":71,"v":78,"x":515,"y":198},{"g":71,"v":78,"x":502,"y":198},{"g":72,"v":92,"x":505,"y":185},{"g":72,"v":92,"x":510,"y":178},{"g":72,"v":92,"x":517,"y":185},{"g":72,"v":92,"x":510,"y":192}]},
"mark":{"type":"line","interpolate":"cardinal-closed","strokeWidth":0.8,"strokeOpacity":0.5},"encoding":{"x":{"field":"x","type":"quantitative","axis":null,"scale":{"domain":[-120,1872]}},"y":{"field":"y","type":"quantitative","axis":null,"scale":{"domain":[840,-2310]}},"order":{"value":null},"detail":{"field":"g"},"stroke":{"condition":{"test":"datum.v>=11","value":"#ffffff"},"value":"transparent"},"fill":{"field":"v","type":"quantitative","scale":{"domain":[0,11,36,50,62,87,100],"range":["#00008b","#0000ff","#00ffff","#7fff7f","#ffff00","#ff0000","#7f0000"]},"legend":null}}},
{"data":{"name":"cright","values":[{"g":1,"v":0,"x":265,"y":40},{"g":1,"v":0,"x":320,"y":35},{"g":1,"v":0,"x":350,"y":70},{"g":1,"v":0,"x":420,"y":85},{"g":1,"v":0,"x":460,"y":130},{"g":1,"v":0,"x":495,"y":130},{"g":1,"v":0,"x":520,"y":103},{"g":1,"v":0,"x":580,"y":120},{"g":1,"v":0,"x":610,"y":160},{"g":1,"v":0,"x":650,"y":180},{"g":1,"v":0,"x":700,"y":215},{"g":1,"v":0,"x":720,"y":290},{"g":1,"v":0,"x":770,"y":345},{"g":1,"v":0,"x":835,"y":395},{"g":1,"v":0,"x":850,"y":470},{"g":1,"v":0,"x":820,"y":520},{"g":1,"v":0,"x":800,"y":610},{"g":1,"v":0,"x":760,"y":670},{"g":1,"v":0,"x":690,"y":690},{"g":1,"v":0,"x":600,"y":710},{"g":1,"v":0,"x":520,"y":750},{"g":1,"v":0,"x":410,"y":720},{"g":1,"v":0,"x":330,"y":680},{"g":1,"v":0,"x":280,"y":640},{"g":1,"v":0,"x":250,"y":570},{"g":1,"v":0,"x":160,"y":530},{"g":1,"v":0,"x":90,"y":500},{"g":1,"v":0,"x":45,"y":430},{"g":1,"v":0,"x":50,"y":380},{"g":1,"v":0,"x":80,"y":345},{"g":1,"v":0,"x":95,"y":290},{"g":1,"v":0,"x":130,"y":240},{"g":1,"v":0,"x":195,"y":205},{"g":1,"v":0,"x":230,"y":150},{"g":1,"v":0,"x":250,"y":90},{"g":2,"v":11,"x":285,"y":70},{"g":2,"v":11,"x":330,"y":80},{"g":2,"v":11,"x":400,"y":110},{"g":2,"v":11,"x":440,"y":155},{"g":2,"v":11,"x":600,"y":200},{"g":2,"v":11,"x":640,"y":220},{"g":2,"v":11,"x":690,"y":270},{"g":2,"v":11,"x":710,"y":320},{"g":2,"v":11,"x":760,"y":370},{"g":2,"v":11,"x":815,"y":400},{"g":2,"v":11,"x":825,"y":470},{"g":2,"v":11,"x":790,"y":530},{"g":2,"v":11,"x":770,"y":610},{"g":2,"v":11,"x":730,"y":650},{"g":2,"v":11,"x":680,"y":680},{"g":2,"v":11,"x":600,"y":690},{"g":2,"v":11,"x":520,"y":720},{"g":2,"v":11,"x":430,"y":695},{"g":2,"v":11,"x":350,"y":650},{"g":2,"v":11,"x":300,"y":620},{"g":2,"v":11,"x":270,"y":545},{"g":2,"v":11,"x":170,"y":515},{"g":2,"v":11,"x":95,"y":470},{"g":2,"v":11,"x":70,"y":420},{"g":2,"v":11,"x":100,"y":355},{"g":2,"v":11,"x":125,"y":275},{"g":2,"v":11,"x":200,"y":240},{"g":2,"v":11,"x":240,"y":170},{"g":2,"v":11,"x":265,"y":100},{"g":3,"v":22,"x":290,"y":90},{"g":3,"v":22,"x":330,"y":100},{"g":3,"v":22,"x":395,"y":130},{"g":3,"v":22,"x":435,"y":175},{"g":3,"v":22,"x":600,"y":220},{"g":3,"v":22,"x":630,"y":240},{"g":3,"v":22,"x":675,"y":285},{"g":3,"v":22,"x":695,"y":335},{"g":3,"v":22,"x":750,"y":385},{"g":3,"v":22,"x":800,"y":415},{"g":3,"v":22,"x":805,"y":470},{"g":3,"v":22,"x":770,"y":525},{"g":3,"v":22,"x":750,"y":600},{"g":3,"v":22,"x":715,"y":640},{"g":3,"v":22,"x":670,"y":660},{"g":3,"v":22,"x":600,"y":675},{"g":3,"v":22,"x":520,"y":700},{"g":3,"v":22,"x":435,"y":675},{"g":3,"v":22,"x":360,"y":635},{"g":3,"v":22,"x":315,"y":605},{"g":3,"v":22,"x":285,"y":530},{"g":3,"v":22,"x":175,"y":500},{"g":3,"v":22,"x":105,"y":460},{"g":3,"v":22,"x":90,"y":420},{"g":3,"v":22,"x":120,"y":365},{"g":3,"v":22,"x":140,"y":285},{"g":3,"v":22,"x":205,"y":255},{"g":3,"v":22,"x":250,"y":190},{"g":3,"v":22,"x":275,"y":120},{"g":4,"v":33,"x":295,"y":100},{"g":4,"v":33,"x":330,"y":120},{"g":4,"v":33,"x":390,"y":150},{"g":4,"v":33,"x":435,"y":195},{"g":4,"v":33,"x":495,"y":210},{"g":4,"v":33,"x":600,"y":240},{"g":4,"v":33,"x":625,"y":260},{"g":4,"v":33,"x":660,"y":300},{"g":4,"v":33,"x":680,"y":345},{"g":4,"v":33,"x":740,"y":400},{"g":4,"v":33,"x":785,"y":425},{"g":4,"v":33,"x":790,"y":470},{"g":4,"v":33,"x":755,"y":520},{"g":4,"v":33,"x":735,"y":595},{"g":4,"v":33,"x":700,"y":630},{"g":4,"v":33,"x":660,"y":645},{"g":4,"v":33,"x":600,"y":655},{"g":4,"v":33,"x":520,"y":680},{"g":4,"v":33,"x":440,"y":655},{"g":4,"v":33,"x":370,"y":620},{"g":4,"v":33,"x":330,"y":590},{"g":4,"v":33,"x":300,"y":520},{"g":4,"v":33,"x":180,"y":485},{"g":4,"v":33,"x":120,"y":450},{"g":4,"v":33,"x":105,"y":420},{"g":4,"v":33,"x":135,"y":370},{"g":4,"v":33,"x":155,"y":295},{"g":4,"v":33,"x":210,"y":270},{"g":4,"v":33,"x":260,"y":215},{"g":4,"v":33,"x":265,"y":150},{"g":5,"v":22,"x":310,"y":270},{"g":5,"v":22,"x":345,"y":240},{"g":5,"v":22,"x":390,"y":250},{"g":5,"v":22,"x":380,"y":300},{"g":5,"v":22,"x":360,"y":345},{"g":5,"v":22,"x":310,"y":345},{"g":5,"v":22,"x":295,"y":320},{"g":6,"v":12,"x":318,"y":318},{"g":6,"v":12,"x":355,"y":303},{"g":6,"v":12,"x":362,"y":322},{"g":6,"v":12,"x":325,"y":328},{"g":7,"v":22,"x":385,"y":395},{"g":7,"v":22,"x":420,"y":385},{"g":7,"v":22,"x":450,"y":430},{"g":7,"v":22,"x":420,"y":450},{"g":7,"v":22,"x":388,"y":430},{"g":8,"v":12,"x":400,"y":405},{"g":8,"v":12,"x":420,"y":408},{"g":8,"v":12,"x":422,"y":430},{"g":8,"v":12,"x":405,"y":425},{"g":9,"v":22,"x":555,"y":470},{"g":9,"v":22,"x":585,"y":410},{"g":9,"v":22,"x":630,"y":405},{"g":9,"v":22,"x":662,"y":480},{"g":9,"v":22,"x":672,"y":540},{"g":9,"v":22,"x":640,"y":558},{"g":9,"v":22,"x":600,"y":510},{"g":10,"v":11,"x":575,"y":470},{"g":10,"v":11,"x":600,"y":415},{"g":10,"v":11,"x":625,"y":420},{"g":10,"v":11,"x":635,"y":510},{"g":10,"v":11,"x":600,"y":490},{"g":11,"v":16,"x":590,"y":470},{"g":11,"v":16,"x":603,"y":440},{"g":11,"v":16,"x":615,"y":480},{"g":11,"v":16,"x":605,"y":483},{"g":12,"v":22,"x":445,"y":340},{"g":12,"v":22,"x":520,"y":318},{"g":12,"v":22,"x":530,"y":330},{"g":12,"v":22,"x":500,"y":368},{"g":12,"v":22,"x":460,"y":365},{"g":13,"v":12,"x":467,"y":347},{"g":13,"v":12,"x":495,"y":342},{"g":13,"v":12,"x":490,"y":360},{"g":13,"v":12,"x":472,"y":358},{"g":14,"v":22,"x":425,"y":510},{"g":14,"v":22,"x":500,"y":515},{"g":14,"v":22,"x":505,"y":530},{"g":14,"v":22,"x":490,"y":605},{"g":14,"v":22,"x":465,"y":580},{"g":14,"v":22,"x":440,"y":560},{"g":15,"v":22,"x":275,"y":430},{"g":15,"v":22,"x":315,"y":428},{"g":15,"v":22,"x":328,"y":465},{"g":15,"v":22,"x":285,"y":462},{"g":16,"v":22,"x":590,"y":610},{"g":16,"v":22,"x":630,"y":600},{"g":16,"v":22,"x":648,"y":625},{"g":16,"v":22,"x":610,"y":642},{"g":17,"v":14,"x":605,"y":620},{"g":17,"v":14,"x":625,"y":615},{"g":17,"v":14,"x":630,"y":625},{"g":17,"v":14,"x":612,"y":630},{"g":18,"v":22,"x":215,"y":250},{"g":18,"v":22,"x":250,"y":270},{"g":18,"v":22,"x":245,"y":295},{"g":18,"v":22,"x":225,"y":285},{"g":19,"v":26,"x":205,"y":350},{"g":19,"v":26,"x":250,"y":360},{"g":19,"v":26,"x":262,"y":390},{"g":19,"v":26,"x":225,"y":385},{"g":20,"v":22,"x":405,"y":248},{"g":20,"v":22,"x":430,"y":240},{"g":20,"v":22,"x":435,"y":255},{"g":20,"v":22,"x":410,"y":262},{"g":21,"v":26,"x":340,"y":565},{"g":21,"v":26,"x":355,"y":558},{"g":21,"v":26,"x":365,"y":570},{"g":21,"v":26,"x":350,"y":578},{"g":22,"v":26,"x":400,"y":590},{"g":22,"v":26,"x":420,"y":585},{"g":22,"v":26,"x":425,"y":640},{"g":22,"v":26,"x":405,"y":640},{"g":222,"v":26,"x":650,"y":440},{"g":222,"v":26,"x":680,"y":440},{"g":222,"v":26,"x":685,"y":490},{"g":222,"v":26,"x":660,"y":495},{"g":23,"v":43,"x":270,"y":130},{"g":23,"v":43,"x":300,"y":95},{"g":23,"v":43,"x":330,"y":125},{"g":23,"v":43,"x":335,"y":190},{"g":23,"v":43,"x":285,"y":205},{"g":23,"v":43,"x":268,"y":170},{"g":24,"v":43,"x":145,"y":365},{"g":24,"v":43,"x":180,"y":325},{"g":24,"v":43,"x":190,"y":385},{"g":24,"v":43,"x":150,"y":385},{"g":25,"v":43,"x":95,"y":430},{"g":25,"v":43,"x":125,"y":420},{"g":25,"v":43,"x":160,"y":445},{"g":25,"v":43,"x":195,"y":460},{"g":25,"v":43,"x":225,"y":435},{"g":25,"v":43,"x":200,"y":475},{"g":25,"v":43,"x":160,"y":505},{"g":25,"v":43,"x":115,"y":470},{"g":26,"v":43,"x":710,"y":410},{"g":26,"v":43,"x":750,"y":400},{"g":26,"v":43,"x":785,"y":440},{"g":26,"v":43,"x":750,"y":482},{"g":26,"v":43,"x":715,"y":470},{"g":27,"v":43,"x":670,"y":610},{"g":27,"v":43,"x":710,"y":535},{"g":27,"v":43,"x":745,"y":590},{"g":27,"v":43,"x":720,"y":640},{"g":27,"v":43,"x":680,"y":640},{"g":28,"v":43,"x":455,"y":390},{"g":28,"v":43,"x":510,"y":365},{"g":28,"v":43,"x":560,"y":310},{"g":28,"v":43,"x":650,"y":345},{"g":28,"v":43,"x":620,"y":365},{"g":28,"v":43,"x":570,"y":420},{"g":28,"v":43,"x":560,"y":450},{"g":28,"v":43,"x":500,"y":470},{"g":28,"v":43,"x":470,"y":440},{"g":29,"v":43,"x":435,"y":600},{"g":29,"v":43,"x":480,"y":630},{"g":29,"v":43,"x":550,"y":650},{"g":29,"v":43,"x":520,"y":672},{"g":29,"v":43,"x":450,"y":672},{"g":29,"v":43,"x":430,"y":650},{"g":30,"v":43,"x":510,"y":555},{"g":30,"v":43,"x":550,"y":570},{"g":30,"v":43,"x":560,"y":620},{"g":30,"v":43,"x":525,"y":620},{"g":31,"v":43,"x":345,"y":595},{"g":31,"v":43,"x":380,"y":580},{"g":31,"v":43,"x":385,"y":630},{"g":31,"v":43,"x":350,"y":620},{"g":32,"v":43,"x":305,"y":535},{"g":32,"v":43,"x":365,"y":525},{"g":32,"v":43,"x":340,"y":550},{"g":32,"v":43,"x":310,"y":555},{"g":33,"v":43,"x":345,"y":425},{"g":33,"v":43,"x":370,"y":415},{"g":33,"v":43,"x":385,"y":435},{"g":33,"v":43,"x":360,"y":460},{"g":34,"v":43,"x":410,"y":295},{"g":34,"v":43,"x":460,"y":270},{"g":34,"v":43,"x":555,"y":295},{"g":34,"v":43,"x":490,"y":312},{"g":34,"v":43,"x":420,"y":305},{"g":35,"v":43,"x":550,"y":520},{"g":35,"v":43,"x":585,"y":520},{"g":35,"v":43,"x":575,"y":540},{"g":35,"v":43,"x":550,"y":535},{"g":36,"v":43,"x":590,"y":575},{"g":36,"v":43,"x":605,"y":560},{"g":36,"v":43,"x":620,"y":578},{"g":36,"v":43,"x":600,"y":590},{"g":37,"v":43,"x":250,"y":335},{"g":37,"v":43,"x":275,"y":315},{"g":37,"v":43,"x":270,"y":345},{"g":37,"v":43,"x":255,"y":350},{"g":38,"v":43,"x":380,"y":355},{"g":38,"v":43,"x":410,"y":347},{"g":38,"v":43,"x":412,"y":365},{"g":38,"v":43,"x":385,"y":368},{"g":39,"v":55,"x":280,"y":165},{"g":39,"v":55,"x":295,"y":150},{"g":39,"v":55,"x":303,"y":170},{"g":39,"v":55,"x":290,"y":185},{"g":40,"v":55,"x":295,"y":115},{"g":40,"v":55,"x":308,"y":95},{"g":40,"v":55,"x":322,"y":120},{"g":40,"v":55,"x":305,"y":140},{"g":41,"v":55,"x":105,"y":440},{"g":41,"v":55,"x":125,"y":425},{"g":41,"v":55,"x":135,"y":450},{"g":41,"v":55,"x":115,"y":460},{"g":42,"v":55,"x":140,"y":485},{"g":42,"v":55,"x":157,"y":468},{"g":42,"v":55,"x":178,"y":490},{"g":42,"v":55,"x":157,"y":508},{"g":43,"v":55,"x":505,"y":415},{"g":43,"v":55,"x":525,"y":365},{"g":43,"v":55,"x":565,"y":420},{"g":43,"v":55,"x":535,"y":450},{"g":44,"v":55,"x":690,"y":605},{"g":44,"v":55,"x":720,"y":590},{"g":44,"v":55,"x":738,"y":605},{"g":44,"v":55,"x":715,"y":618},{"g":45,"v":50,"x":720,"y":452},{"g":45,"v":50,"x":728,"y":440},{"g":45,"v":50,"x":738,"y":452},{"g":45,"v":50,"x":728,"y":462},{"g":46,"v":55,"x":350,"y":433},{"g":46,"v":55,"x":360,"y":422},{"g":46,"v":55,"x":372,"y":433},{"g":46,"v":55,"x":360,"y":445},{"g":47,"v":50,"x":440,"y":655},{"g":47,"v":50,"x":452,"y":645},{"g":47,"v":50,"x":465,"y":658},{"g":47,"v":50,"x":452,"y":665},{"g":48,"v":65,"x":147,"y":487},{"g":48,"v":65,"x":157,"y":477},{"g":48,"v":65,"x":168,"y":490},{"g":48,"v":65,"x":157,"y":498},{"g":49,"v":65,"x":515,"y":420},{"g":49,"v":65,"x":535,"y":400},{"g":49,"v":65,"x":558,"y":425},{"g":49,"v":65,"x":538,"y":442},{"g":50,"v":70,"x":298,"y":115},{"g":50,"v":70,"x":307,"y":103},{"g":50,"v":70,"x":316,"y":118},{"g":50,"v":70,"x":306,"y":128},{"g":51,"v":78,"x":530,"y":425},{"g":51,"v":78,"x":545,"y":412},{"g":51,"v":78,"x":556,"y":428},{"g":51,"v":78,"x":543,"y":437},{"g":52,"v":85,"x":538,"y":427},{"g":52,"v":85,"x":545,"y":420},{"g":52,"v":85,"x":551,"y":428},{"g":52,"v":85,"x":545,"y":433},{"g":53,"v":85,"x":301,"y":115},{"g":53,"v":85,"x":307,"y":109},{"g":53,"v":85,"x":313,"y":116},{"g":53,"v":85,"x":306,"y":122},{"g":54,"v":75,"x":150,"y":488},{"g":54,"v":75,"x":157,"y":482},{"g":54,"v":75,"x":163,"y":489},{"g":54,"v":75,"x":157,"y":494},{"g":55,"v":65,"x":708,"y":603},{"g":55,"v":65,"x":720,"y":596},{"g":55,"v":65,"x":730,"y":604},{"g":55,"v":65,"x":720,"y":611}]},
"mark":{"type":"line","interpolate":"cardinal-closed","strokeWidth":0.8,"strokeOpacity":0.5},"encoding":{"x":{"field":"x","type":"quantitative","axis":null,"scale":{"domain":[-1020,972]}},"y":{"field":"y","type":"quantitative","axis":null,"scale":{"domain":[780,-2370]}},"order":{"value":null},"detail":{"field":"g"},"stroke":{"condition":{"test":"datum.v>=11","value":"#ffffff"},"value":"transparent"},"fill":{"field":"v","type":"quantitative","scale":{"domain":[0,11,36,50,62,87,100],"range":["#00008b","#0000ff","#00ffff","#7fff7f","#ffff00","#ff0000","#7f0000"]},"legend":{"orient":"none","legendX":292,"legendY":1004,"direction":"horizontal","title":null,"gradientLength":84,"gradientThickness":17,"values":[0,100],"labelExpr":"datum.value==0?'Low':'High'","labelFontSize":19,"labelOffset":9,"gradientStrokeWidth":0,"encode":{"labels":{"update":{"align":{"value":"center"}}}}}}}},
{"data":{"name":"tags","values":[{"x":12,"y":14,"t":"a"},{"x":82,"y":581,"t":"b"},{"x":51,"y":789,"t":"c"}]},"mark":{"type":"text","font":"Liberation Sans","fontWeight":"bold","fontSize":23,"align":"left","baseline":"alphabetic","color":"#000"},"encoding":{"text":{"field":"t"}}}
]}
